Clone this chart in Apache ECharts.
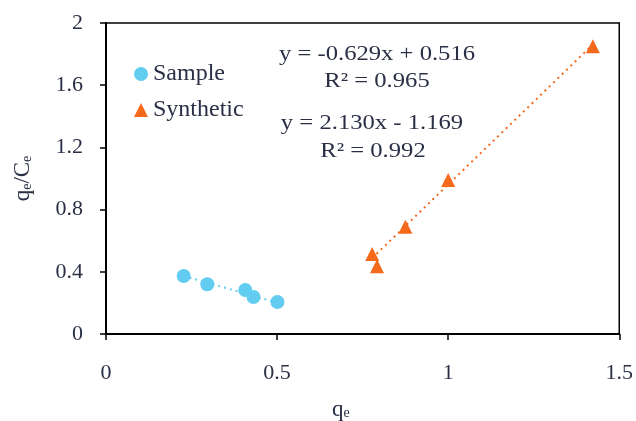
<!DOCTYPE html>
<html><head><meta charset="utf-8">
<script src="https://cdn.jsdelivr.net/npm/echarts@6/dist/echarts.min.js"></script>
<style>html,body{margin:0;padding:0;background:#fff}#c{width:636px;height:421px}</style>
</head><body><div id="c"></div>
<script>
var sampleX = [0.227, 0.296, 0.407, 0.431, 0.501];
var sampleY = [0.373, 0.320, 0.283, 0.238, 0.206];
var synthX = [0.778, 0.792, 0.875, 1.000, 1.423];
var synthY = [0.515, 0.435, 0.690, 0.990, 1.850];
var sampleFit = {slope: -0.629, intercept: 0.516};
var synthFit = {slope: 2.130, intercept: -1.169};
var xTicks = [0, 0.5, 1, 1.5];
var yTicks = [0, 0.4, 0.8, 1.2, 1.6, 2];

function pairs(xs, ys){ return xs.map(function(x,i){return [x, ys[i]];}); }
function fitLine(xs, f){
  var a = Math.min.apply(null, xs), b = Math.max.apply(null, xs);
  return [[a, f.slope*a + f.intercept], [b, f.slope*b + f.intercept]];
}
var serif = '"Liberation Serif", "DejaVu Serif", serif';
var txt = '#2a2f45';
var blue = '#62cdf0', orange = '#f4691c';

function eq(text, cx, cy){
  return {type: 'text', x: cx, y: cy, scaleX: 1.12,
    style: {text: text, fontFamily: serif, fontSize: 22, fill: txt, align: 'center', verticalAlign: 'middle'}};
}

var chart = echarts.init(document.getElementById('c'));
chart.setOption({
  animation: false,
  backgroundColor: '#fff',
  textStyle: {fontFamily: serif},
  grid: {left: 106, right: 16, top: 23, bottom: 87, show: true, borderColor: '#000', borderWidth: 1.5},
  legend: {
    orient: 'vertical', left: 129, top: 57, itemGap: 12, itemWidth: 14, itemHeight: 14,
    data: [{name: 'Sample', icon: 'circle'}, {name: 'Synthetic', icon: 'triangle'}],
    formatter: function(n){ return '{t|' + n + '}'; },
    textStyle: {fontFamily: serif, fontSize: 24, color: txt,
      rich: {t: {fontFamily: serif, fontSize: 24, color: txt}}}
  },
  xAxis: {
    type: 'value', min: 0, max: 1.5, interval: 0.5,
    axisLine: {show: true, lineStyle: {color: '#000', width: 2}},
    axisTick: {show: true, length: 6, lineStyle: {color: '#000', width: 1.5}},
    axisLabel: {margin: 28, fontFamily: serif, fontSize: 22, color: txt,
      formatter: function(v){ return xTicks.indexOf(v) >= 0 ? String(v) : ''; }},
    splitLine: {show: false}
  },
  yAxis: {
    type: 'value', min: 0, max: 2, interval: 0.4,
    name: '{q|q}{s|e}{q|/C}{s|e}', nameLocation: 'middle', nameGap: 72, nameRotate: 90,
    nameTextStyle: {rich: {
      q: {fontFamily: serif, fontSize: 23, color: txt},
      s: {fontFamily: serif, fontSize: 14, color: txt, verticalAlign: 'bottom', padding: [8,0,0,0]}
    }},
    axisLine: {show: true, lineStyle: {color: '#000', width: 2}},
    axisTick: {show: true, length: 6, lineStyle: {color: '#000', width: 1.5}},
    axisLabel: {margin: 23, fontFamily: serif, fontSize: 22, color: txt,
      formatter: function(v){ var r = Math.round(v*10)/10; return yTicks.indexOf(r) >= 0 ? String(r) : ''; }},
    splitLine: {show: false}
  },
  graphic: [
    {type: 'text', left: 332, top: 398, style: {rich: {
      q: {fontFamily: serif, fontSize: 23, fill: txt},
      s: {fontFamily: serif, fontSize: 14, fill: txt, padding: [8,0,0,0]}
    }, text: '{q|q}{s|e}'}},
    eq('y = -0.629x + 0.516', 377, 54),
    eq('R² = 0.965', 377, 81),
    eq('y = 2.130x - 1.169', 372, 123),
    eq('R² = 0.992', 373, 151)
  ],
  series: [
    {name: 'Sample fit', type: 'line', data: fitLine(sampleX, sampleFit), symbol: 'none',
     lineStyle: {color: blue, width: 2, type: [2, 4]}, silent: true, z: 1},
    {name: 'Synthetic fit', type: 'line', data: fitLine(synthX, synthFit), symbol: 'none',
     lineStyle: {color: orange, width: 2, type: [2, 4]}, silent: true, z: 1},
    {name: 'Sample', type: 'scatter', data: pairs(sampleX, sampleY), symbol: 'circle', symbolSize: 14,
     itemStyle: {color: blue, opacity: 1}, z: 3},
    {name: 'Synthetic', type: 'scatter', data: pairs(synthX, synthY), symbol: 'triangle', symbolSize: 14,
     itemStyle: {color: orange, opacity: 1}, z: 3}
  ]
});
</script></body></html>
